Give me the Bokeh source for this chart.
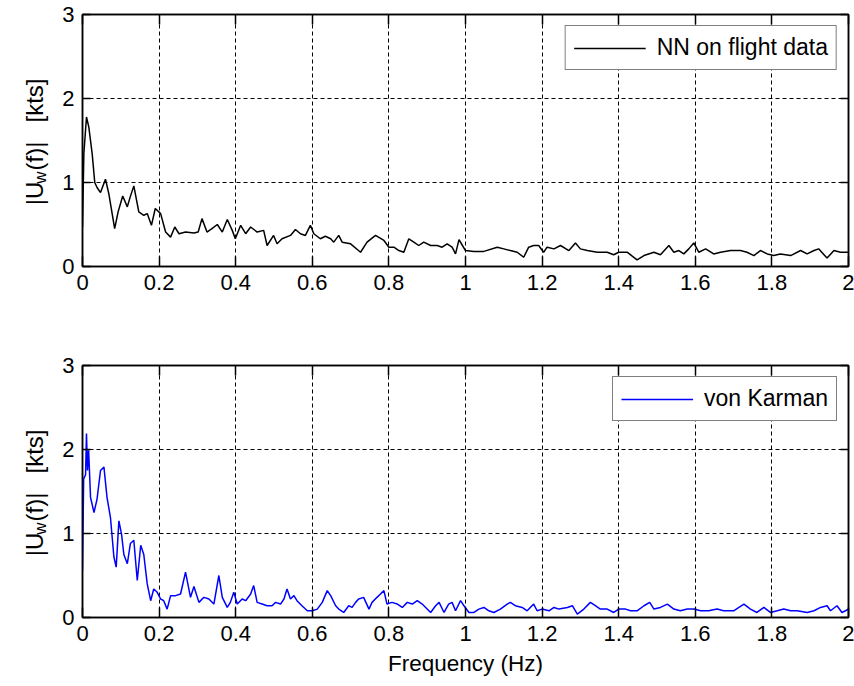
import math
from bokeh.plotting import figure
from bokeh.layouts import column, row
from bokeh.models import (Range1d, FixedTicker, LinearAxis, Legend, LegendItem, Label,
                          NumeralTickFormatter, CustomJSTickFormatter)
from bokeh.embed import file_html
from bokeh.resources import INLINE

# ---------------- data ----------------
x_ticks = [0, 0.2, 0.4, 0.6, 0.8, 1.0, 1.2, 1.4, 1.6, 1.8, 2.0]
y_ticks = [0, 1, 2, 3]

nn_freq = [
    0.0, 0.0035, 0.0104, 0.0165, 0.0253, 0.032, 0.038, 0.047, 0.060, 0.069,
    0.084, 0.093, 0.105, 0.117, 0.124, 0.134, 0.147, 0.160, 0.169, 0.180,
    0.190, 0.204, 0.217, 0.230, 0.241, 0.252, 0.269, 0.291, 0.302, 0.312,
    0.325, 0.338, 0.352, 0.365, 0.378, 0.391, 0.399, 0.413, 0.426, 0.439,
    0.456, 0.473, 0.482, 0.499, 0.508, 0.521, 0.543, 0.556, 0.569, 0.582,
    0.595, 0.604, 0.621, 0.634, 0.648, 0.656, 0.669, 0.678, 0.700, 0.726,
    0.743, 0.765, 0.787, 0.800, 0.813, 0.826, 0.839, 0.852, 0.865, 0.878,
    0.891, 0.909, 0.926, 0.939, 0.952, 0.965, 0.974, 0.983, 0.992, 1.000,
    1.022, 1.048, 1.083, 1.100, 1.117, 1.135, 1.152, 1.165, 1.178, 1.191,
    1.204, 1.213, 1.231, 1.248, 1.270, 1.287, 1.300, 1.318, 1.344, 1.370,
    1.387, 1.400, 1.422, 1.448, 1.466, 1.492, 1.509, 1.531, 1.544, 1.557,
    1.570, 1.583, 1.596, 1.609, 1.627, 1.648, 1.666, 1.692, 1.718, 1.735,
    1.753, 1.770, 1.788, 1.805, 1.822, 1.849, 1.875, 1.892, 1.910, 1.922,
    1.944, 1.962, 1.979, 2.0,
]
nn_mag = [
    0.47, 1.34, 1.78, 1.66, 1.34, 1.00, 0.94, 0.88, 1.04, 0.86,
    0.45, 0.65, 0.84, 0.71, 0.82, 0.96, 0.65, 0.61, 0.63, 0.49,
    0.69, 0.63, 0.41, 0.35, 0.47, 0.39, 0.41, 0.40, 0.41, 0.57,
    0.41, 0.45, 0.50, 0.41, 0.56, 0.43, 0.33, 0.49, 0.39, 0.47,
    0.41, 0.43, 0.25, 0.37, 0.27, 0.33, 0.37, 0.44, 0.39, 0.37,
    0.49, 0.39, 0.33, 0.36, 0.33, 0.29, 0.37, 0.29, 0.27, 0.17,
    0.29, 0.37, 0.31, 0.23, 0.23, 0.19, 0.17, 0.33, 0.29, 0.25,
    0.29, 0.25, 0.25, 0.23, 0.27, 0.23, 0.15, 0.32, 0.25, 0.19,
    0.18, 0.18, 0.23, 0.21, 0.19, 0.17, 0.11, 0.23, 0.25, 0.25,
    0.17, 0.23, 0.21, 0.25, 0.19, 0.28, 0.21, 0.19, 0.17, 0.17,
    0.14, 0.17, 0.17, 0.08, 0.13, 0.17, 0.14, 0.25, 0.17, 0.19,
    0.15, 0.21, 0.28, 0.17, 0.21, 0.15, 0.17, 0.19, 0.19, 0.17,
    0.13, 0.19, 0.15, 0.13, 0.15, 0.13, 0.19, 0.15, 0.19, 0.21,
    0.10, 0.19, 0.17, 0.17,
]

vk_freq = [
    0.0, 0.003, 0.008, 0.0104, 0.013, 0.016, 0.021, 0.030, 0.038, 0.047,
    0.056, 0.064, 0.073, 0.082, 0.088, 0.095, 0.102, 0.108, 0.117, 0.125,
    0.134, 0.143, 0.152, 0.160, 0.169, 0.178, 0.186, 0.195, 0.204, 0.212,
    0.221, 0.230, 0.243, 0.256, 0.269, 0.282, 0.291, 0.304, 0.317, 0.330,
    0.343, 0.356, 0.365, 0.378, 0.386, 0.395, 0.404, 0.417, 0.426, 0.439,
    0.447, 0.456, 0.469, 0.482, 0.495, 0.504, 0.517, 0.526, 0.534, 0.543,
    0.552, 0.560, 0.573, 0.587, 0.600, 0.613, 0.626, 0.639, 0.648, 0.661,
    0.669, 0.682, 0.695, 0.704, 0.713, 0.721, 0.734, 0.748, 0.756, 0.769,
    0.778, 0.787, 0.795, 0.808, 0.822, 0.835, 0.848, 0.861, 0.874, 0.887,
    0.896, 0.909, 0.922, 0.931, 0.944, 0.956, 0.965, 0.974, 0.987, 0.996,
    1.009, 1.022, 1.035, 1.048, 1.061, 1.074, 1.091, 1.109, 1.117, 1.130,
    1.148, 1.161, 1.178, 1.187, 1.200, 1.218, 1.231, 1.244, 1.266, 1.279,
    1.292, 1.309, 1.326, 1.339, 1.352, 1.370, 1.387, 1.400, 1.418, 1.431,
    1.448, 1.466, 1.481, 1.492, 1.509, 1.527, 1.544, 1.561, 1.579, 1.596,
    1.614, 1.635, 1.657, 1.674, 1.700, 1.727, 1.744, 1.761, 1.779, 1.796,
    1.814, 1.831, 1.849, 1.866, 1.892, 1.910, 1.927, 1.944, 1.953, 1.970,
    1.983, 1.992, 2.0,
]
vk_mag = [
    0.56, 1.65, 1.70, 2.19, 1.75, 1.99, 1.43, 1.25, 1.41, 1.75,
    1.79, 1.43, 1.19, 0.72, 0.60, 1.15, 0.99, 0.75, 0.64, 0.88,
    0.92, 0.44, 0.86, 0.75, 0.40, 0.20, 0.34, 0.30, 0.22, 0.20,
    0.10, 0.26, 0.26, 0.28, 0.54, 0.24, 0.37, 0.18, 0.24, 0.22,
    0.16, 0.50, 0.24, 0.12, 0.18, 0.30, 0.16, 0.22, 0.20, 0.28,
    0.38, 0.18, 0.16, 0.14, 0.14, 0.18, 0.16, 0.22, 0.34, 0.22,
    0.26, 0.20, 0.14, 0.08, 0.08, 0.10, 0.18, 0.32, 0.26, 0.14,
    0.10, 0.06, 0.14, 0.12, 0.18, 0.22, 0.24, 0.10, 0.18, 0.24,
    0.28, 0.32, 0.16, 0.18, 0.16, 0.12, 0.18, 0.16, 0.20, 0.16,
    0.12, 0.06, 0.14, 0.18, 0.06, 0.16, 0.18, 0.08, 0.20, 0.14,
    0.06, 0.06, 0.10, 0.12, 0.08, 0.06, 0.10, 0.16, 0.18, 0.14,
    0.12, 0.08, 0.16, 0.08, 0.10, 0.08, 0.12, 0.10, 0.12, 0.14,
    0.04, 0.10, 0.18, 0.14, 0.10, 0.10, 0.06, 0.10, 0.10, 0.08,
    0.08, 0.14, 0.18, 0.10, 0.12, 0.16, 0.10, 0.08, 0.10, 0.10,
    0.08, 0.08, 0.10, 0.08, 0.08, 0.16, 0.10, 0.06, 0.12, 0.06,
    0.08, 0.10, 0.08, 0.08, 0.06, 0.08, 0.12, 0.14, 0.08, 0.14,
    0.06, 0.08, 0.10,
]

# y-axis label pieces: |U_w(f)|  [kts]
ylabel_parts = ["|U", "w", "(f)|", "[kts]"]

FONT = "Liberation Sans"
TICK_SIZE = "22px"
TEXT_SIZE = "22.5px"

LABEL_W = 57          # width of the strip that holds the rotated y labels
TOTAL_W, TOTAL_H = 854, 686
MAIN_W = TOTAL_W - LABEL_W


def style_fig(p):
    p.background_fill_color = "white"
    p.border_fill_color = "white"
    p.outline_line_color = "black"
    p.outline_line_width = 1.5

    xa = p.below[0]
    xa.ticker = FixedTicker(ticks=x_ticks)
    xa.formatter = NumeralTickFormatter(format="0.[0]")
    ya = p.left[0]
    ya.ticker = FixedTicker(ticks=y_ticks)
    ya.formatter = NumeralTickFormatter(format="0")
    for ax, tin in ((xa, 10), (ya, 8)):
        ax.major_tick_in = tin
        ax.major_tick_out = 0
        ax.minor_tick_in = 0
        ax.minor_tick_out = 0
        ax.axis_line_color = "black"
        ax.axis_line_width = 1.5
        ax.major_tick_line_color = "black"
        ax.major_tick_line_width = 1.5
        ax.major_label_text_font = FONT
        ax.major_label_text_font_size = TICK_SIZE
        ax.major_label_text_color = "black"
    xa.major_label_standoff = 8
    ya.major_label_standoff = 8

    # ticks on the top and right edges (no labels)
    for loc, ticks, tin in (("above", x_ticks, 10), ("right", y_ticks, 8)):
        ax = LinearAxis(ticker=FixedTicker(ticks=ticks),
                        formatter=CustomJSTickFormatter(code="return ''"),
                        major_tick_in=tin, major_tick_out=0,
                        minor_tick_in=0, minor_tick_out=0,
                        major_label_standoff=0,
                        major_label_text_font_size="1px",
                        axis_line_color="black", axis_line_width=1.5,
                        major_tick_line_color="black", major_tick_line_width=1.5)
        p.add_layout(ax, loc)

    for g, ticks in ((p.xgrid[0], x_ticks), (p.ygrid[0], y_ticks)):
        g.ticker = FixedTicker(ticks=ticks)
        g.grid_line_color = "black"
        g.grid_line_dash = "4 3"
        g.grid_line_width = 1
        g.grid_line_alpha = 1
    return xa


def add_legend(p, r, label):
    lg = Legend(items=[LegendItem(label=label, renderers=[r])], location="top_right")
    lg.border_line_color = "black"
    lg.border_line_width = 1.5
    lg.background_fill_color = "white"
    lg.background_fill_alpha = 1
    lg.label_text_font = FONT
    lg.label_text_font_size = "23px"
    lg.label_text_color = "black"
    lg.glyph_width = 72
    lg.label_standoff = 11
    lg.padding = 8
    lg.margin = 11
    p.add_layout(lg)


p1 = figure(width=MAIN_W, height=300, output_backend="svg", toolbar_location=None,
            x_range=Range1d(0, 2), y_range=Range1d(0, 3),
            min_border_left=82 - LABEL_W, min_border_right=6,
            min_border_top=14, min_border_bottom=34)
style_fig(p1)
r1 = p1.line(nn_freq, nn_mag, line_color="black", line_width=1.5)
add_legend(p1, r1, "NN on flight data")

p2 = figure(width=MAIN_W, height=386, output_backend="svg", toolbar_location=None,
            x_range=Range1d(0, 2), y_range=Range1d(0, 3),
            min_border_left=82 - LABEL_W, min_border_right=6,
            min_border_top=65, min_border_bottom=69)
xa2 = style_fig(p2)
r2 = p2.line(vk_freq, vk_mag, line_color="#0000ff", line_width=1.5)
add_legend(p2, r2, "von Karman")
xa2.axis_label = "Frequency (Hz)"
xa2.axis_label_text_font = FONT
xa2.axis_label_text_font_size = TEXT_SIZE
xa2.axis_label_text_font_style = "normal"
xa2.axis_label_text_color = "black"
xa2.axis_label_standoff = 7

# ---------------- strip with the rotated y-axis labels ----------------
# strip coordinates are pixels: x from the left, y from the bottom of the page
lab = figure(width=LABEL_W, height=TOTAL_H, output_backend="svg", toolbar_location=None,
             x_range=Range1d(0, LABEL_W), y_range=Range1d(0, TOTAL_H),
             x_axis_type=None, y_axis_type=None,
             min_border_left=0, min_border_right=0, min_border_top=0, min_border_bottom=0)
lab.outline_line_color = None
lab.background_fill_color = "white"
lab.border_fill_color = "white"
lab.grid.visible = False

# placement of each piece: (baseline x, centre y measured up from frame bottom, size)
piece_pos = [(34, 73, "24px"), (40, 89, "17px"), (34, 110.5, "24px"), (34, 166, "24px")]
frame_bottoms = [266, 617]     # page px of the two frames' bottoms
for fb in frame_bottoms:
    for txt, (bx, dy, sz) in zip(ylabel_parts, piece_pos):
        lab.add_layout(Label(x=bx, y=TOTAL_H - fb + dy, text=txt, angle=math.pi / 2,
                             text_align="center", text_baseline="alphabetic",
                             text_font=FONT, text_font_size=sz, text_color="black"))

layout = row(lab, column(p1, p2, spacing=0), spacing=0)
open("out.html", "w").write(file_html(layout, INLINE))
